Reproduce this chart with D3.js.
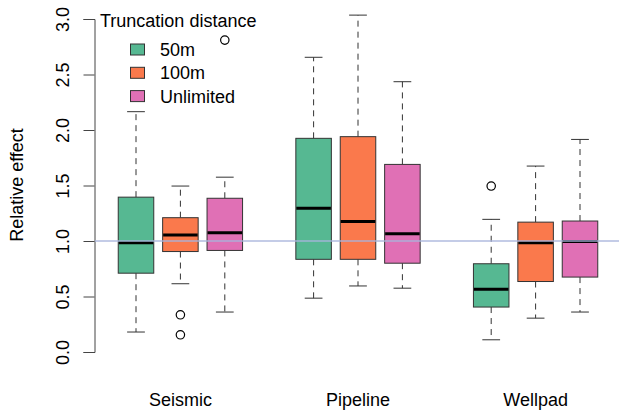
<!DOCTYPE html>
<html>
<head>
<meta charset="utf-8">
<script src="https://cdn.jsdelivr.net/npm/d3@7"></script>
<style>
  body { margin: 0; background: #fff; }
  text { font-family: "Liberation Sans", Arial, sans-serif; fill: #000; }
</style>
</head>
<body>
<svg id="chart" width="619" height="410"></svg>
<script>
// groups on the x axis and the three truncation distances
const groups = ["Seismic", "Pipeline", "Wellpad"];
const series = ["50m", "100m", "Unlimited"];
const colors = ["#56b892", "#fa794c", "#e070b5"];

// box statistics, one row per group, one column per series
const whiskerLow = [[0.18, 0.615, 0.36], [0.485, 0.595, 0.575], [0.11, 0.305, 0.36]];
const q1 = [[0.71, 0.905, 0.915], [0.835, 0.835, 0.8], [0.405, 0.635, 0.675]];
const median = [[0.985, 1.055, 1.075], [1.295, 1.175, 1.065], [0.565, 0.985, 0.995]];
const q3 = [[1.395, 1.21, 1.385], [1.925, 1.94, 1.69], [0.795, 1.17, 1.18]];
const whiskerHigh = [[2.165, 1.495, 1.575], [2.655, 3.035, 2.435], [1.195, 1.675, 1.915]];
const outliers = [[[], [0.335, 0.155], [2.81]], [[], [], []], [[1.495], [], []]];

const yTicks = [0, 0.5, 1, 1.5, 2, 2.5, 3];
const refLine = 1;

const svg = d3.select("#chart");

const y = d3.scaleLinear().domain([0, 3]).range([352, 19]);
// boxes sit at positions 1..11, skipping 4 and 8 between groups
const x = d3.scaleLinear().domain([1, 11]).range([136, 580]);
const pos = (g, s) => g * 4 + s + 1;
const boxW = (x(2) - x(1)) * 0.8;

const boxes = [];
groups.forEach((g, gi) => {
  series.forEach((s, si) => {
    boxes.push({
      p: pos(gi, si), color: colors[si],
      lo: whiskerLow[gi][si], q1: q1[gi][si], med: median[gi][si],
      q3: q3[gi][si], hi: whiskerHigh[gi][si], out: outliers[gi][si]
    });
  });
});

// y axis, R style: labels parallel to the axis
const yAxis = svg.append("g").attr("transform", "translate(94.5,0)")
  .call(d3.axisLeft(y).tickValues(yTicks).tickSize(11).tickFormat(d3.format(".1f")));
yAxis.select(".domain").attr("stroke", "#444");
yAxis.selectAll(".tick line").attr("stroke", "#444");
yAxis.selectAll(".tick text").remove();
yAxis.selectAll(".tick").append("text")
  .attr("transform", "translate(-26,0) rotate(-90)")
  .attr("text-anchor", "middle")
  .attr("font-size", 18)
  .text(d => d3.format(".1f")(d));

svg.append("text")
  .attr("transform", "translate(23,185) rotate(-90)")
  .attr("text-anchor", "middle")
  .attr("font-size", 18)
  .text("Relative effect");

// group labels
svg.selectAll(".glabel").data(groups).join("text")
  .attr("x", (d, i) => x(pos(i, 1)))
  .attr("y", 406)
  .attr("text-anchor", "middle")
  .attr("font-size", 18)
  .text(d => d);

const b = svg.selectAll(".box").data(boxes).join("g");

// whiskers
b.append("line")
  .attr("x1", d => x(d.p)).attr("x2", d => x(d.p))
  .attr("y1", d => y(d.q3)).attr("y2", d => y(d.hi))
  .attr("stroke", "#333").attr("stroke-dasharray", "6,5");
b.append("line")
  .attr("x1", d => x(d.p)).attr("x2", d => x(d.p))
  .attr("y1", d => y(d.q1)).attr("y2", d => y(d.lo))
  .attr("stroke", "#333").attr("stroke-dasharray", "6,5");
b.append("line")
  .attr("x1", d => x(d.p) - boxW / 4).attr("x2", d => x(d.p) + boxW / 4)
  .attr("y1", d => y(d.hi)).attr("y2", d => y(d.hi))
  .attr("stroke", "#333");
b.append("line")
  .attr("x1", d => x(d.p) - boxW / 4).attr("x2", d => x(d.p) + boxW / 4)
  .attr("y1", d => y(d.lo)).attr("y2", d => y(d.lo))
  .attr("stroke", "#333");

// boxes
b.append("rect")
  .attr("x", d => x(d.p) - boxW / 2)
  .attr("width", boxW)
  .attr("y", d => y(d.q3))
  .attr("height", d => y(d.q1) - y(d.q3))
  .attr("fill", d => d.color)
  .attr("stroke", "#333");

// medians
b.append("line")
  .attr("x1", d => x(d.p) - boxW / 2 + 0.5).attr("x2", d => x(d.p) + boxW / 2 - 0.5)
  .attr("y1", d => y(d.med)).attr("y2", d => y(d.med))
  .attr("stroke", "#000").attr("stroke-width", 3);

// outliers
b.selectAll("circle").data(d => d.out.map(v => ({ p: d.p, v }))).join("circle")
  .attr("cx", d => x(d.p)).attr("cy", d => y(d.v)).attr("r", 4.2)
  .attr("fill", "none").attr("stroke", "#000").attr("stroke-width", 1.2);

// reference line at 1
svg.append("line")
  .attr("x1", 95).attr("x2", 619)
  .attr("y1", y(refLine)).attr("y2", y(refLine))
  .attr("stroke", "#a9b5dc").attr("stroke-width", 1.5).attr("opacity", 0.9);

// legend
const leg = svg.append("g");
leg.append("text").attr("x", 100).attr("y", 27).attr("font-size", 18).text("Truncation distance");
const li = leg.selectAll(".li").data(series).join("g")
  .attr("transform", (d, i) => `translate(0,${49.5 + i * 23.3})`);
li.append("rect").attr("x", 130.5).attr("y", -5.5).attr("width", 14).attr("height", 11)
  .attr("fill", (d, i) => colors[i]).attr("stroke", "#333");
li.append("text").attr("x", 160).attr("y", 6.5).attr("font-size", 18).text(d => d);
</script>
</body>
</html>
